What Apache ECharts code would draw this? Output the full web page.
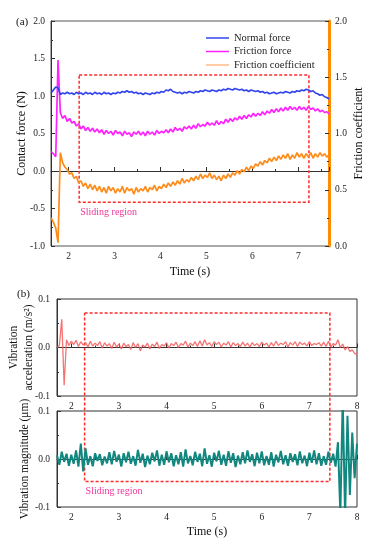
<!DOCTYPE html>
<html><head><meta charset="utf-8">
<script src="https://cdn.jsdelivr.net/npm/echarts@6/dist/echarts.min.js"></script>
<style>html,body{margin:0;padding:0;background:#fff}#c{width:372px;height:540px}</style>
</head><body><div id="c"></div>
<script>
// ---- panel (a): sampled every 0.05 s starting at 1.62 s ----
const timeStartA = 1.62, timeStepA = 0.05;
const normalForce = [
1.04,1.08,1.12,1.11,1.02,1.04,1.03,1.05,1.03,1.04,
1.02,1.05,1.03,1.04,1.02,1.05,1.03,1.04,1.02,1.05,
1.03,1.04,1.02,1.05,1.03,1.04,1.02,1.04,1.03,1.05,
1.04,1.06,1.05,1.07,1.05,1.06,1.04,1.05,1.03,1.04,
1.02,1.04,1.03,1.02,1.04,1.03,1.05,1.04,1.06,1.05,
1.08,1.07,1.09,1.06,1.05,1.04,1.05,1.03,1.05,1.04,
1.06,1.05,1.04,1.06,1.05,1.07,1.06,1.08,1.07,1.06,
1.08,1.07,1.06,1.08,1.07,1.09,1.08,1.10,1.09,1.08,
1.10,1.09,1.08,1.09,1.07,1.08,1.06,1.08,1.07,1.06,
1.07,1.05,1.06,1.04,1.05,1.03,1.04,1.05,1.03,1.04,
1.05,1.04,1.06,1.05,1.04,1.06,1.05,1.07,1.06,1.08,
1.07,1.09,1.08,1.06,1.07,1.04,1.03,1.01,1.02,0.99,
0.98,0.96];
const frictionForce = [
0.26,0.23,0.19,1.48,0.78,0.70,0.74,0.66,0.70,0.64,
0.66,0.60,0.63,0.56,0.60,0.54,0.58,0.53,0.57,0.52,
0.56,0.51,0.55,0.49,0.54,0.50,0.53,0.48,0.54,0.50,
0.52,0.47,0.53,0.49,0.51,0.46,0.52,0.49,0.53,0.48,
0.52,0.47,0.53,0.49,0.52,0.48,0.54,0.50,0.53,0.51,
0.55,0.51,0.56,0.52,0.58,0.54,0.57,0.53,0.59,0.56,
0.60,0.56,0.61,0.57,0.63,0.59,0.62,0.60,0.65,0.61,
0.64,0.61,0.67,0.62,0.66,0.63,0.69,0.65,0.70,0.66,
0.71,0.68,0.73,0.69,0.74,0.70,0.75,0.72,0.77,0.73,
0.77,0.74,0.79,0.75,0.80,0.77,0.82,0.78,0.83,0.79,
0.84,0.80,0.85,0.81,0.86,0.82,0.85,0.81,0.86,0.82,
0.85,0.81,0.86,0.82,0.84,0.80,0.83,0.79,0.81,0.78,
0.79,0.76];
const frictionCoef = [
0.25,0.21,0.16,0.03,0.83,0.74,0.70,0.68,0.64,0.65,
0.60,0.62,0.56,0.58,0.53,0.56,0.51,0.55,0.50,0.54,
0.49,0.53,0.48,0.52,0.47,0.53,0.49,0.52,0.47,0.51,
0.48,0.53,0.47,0.52,0.49,0.51,0.46,0.52,0.48,0.51,
0.49,0.53,0.48,0.52,0.50,0.54,0.49,0.53,0.51,0.55,
0.52,0.56,0.53,0.57,0.54,0.58,0.55,0.60,0.56,0.59,
0.57,0.61,0.58,0.62,0.59,0.64,0.60,0.63,0.61,0.65,
0.60,0.63,0.59,0.62,0.58,0.63,0.60,0.64,0.61,0.65,
0.63,0.67,0.64,0.68,0.66,0.70,0.67,0.71,0.69,0.73,
0.71,0.75,0.72,0.76,0.74,0.78,0.75,0.79,0.76,0.80,
0.77,0.81,0.78,0.82,0.77,0.81,0.78,0.83,0.79,0.82,
0.78,0.82,0.79,0.83,0.78,0.82,0.79,0.83,0.80,0.82,
0.79,0.81];
// ---- panel (b): sampled every 0.05 s starting at 1.70 s ----
const timeStartB = 1.70, timeStepB = 0.05;
const vibAccel = [
0.000,0.004,0.058,-0.078,0.016,0.004,0.013,0.006,0.015,0.002,
0.012,0.005,0.010,0.001,0.013,0.003,0.009,0.004,0.012,-0.001,
0.010,0.003,0.008,-0.002,0.011,0.001,0.007,-0.003,0.009,0.002,
0.006,-0.004,0.010,0.000,0.008,-0.007,0.005,0.001,0.009,-0.003,
0.007,0.002,0.011,-0.002,0.006,0.003,0.010,-0.001,0.008,0.004,
0.011,0.000,0.008,0.005,0.013,0.001,0.009,0.004,0.012,0.002,
0.014,0.003,0.016,0.005,0.010,0.002,0.012,0.006,0.011,0.001,
0.009,0.005,0.012,0.001,0.010,0.004,0.008,0.002,0.011,0.003,
0.009,0.001,0.010,0.004,0.008,0.002,0.011,0.005,0.009,0.001,
0.010,0.003,0.013,0.004,0.009,0.006,0.012,0.001,0.010,0.005,
0.012,0.002,0.011,0.006,0.009,0.003,0.012,0.004,0.008,0.006,
0.010,0.003,0.011,0.002,0.013,0.001,0.008,0.005,0.016,0.000,
0.007,-0.005,0.002,-0.008,-0.005,-0.012,-0.014];
const vibMag = [
0.008,-0.012,0.015,-0.006,0.011,-0.014,0.009,-0.010,0.018,-0.016,
0.032,-0.026,0.022,-0.012,0.006,-0.015,0.012,-0.004,0.010,-0.013,
0.005,-0.009,0.014,-0.011,0.017,-0.006,0.009,-0.016,0.012,-0.007,
0.015,-0.010,0.006,-0.014,0.019,-0.008,0.011,-0.017,0.007,-0.011,
0.013,-0.005,0.018,-0.014,0.009,-0.012,0.016,-0.007,0.012,-0.015,
0.008,-0.011,0.014,-0.016,0.020,-0.009,0.006,-0.013,0.015,-0.006,
0.011,-0.015,0.022,-0.010,0.008,-0.016,0.013,-0.005,0.017,-0.012,
0.009,-0.014,0.016,-0.008,0.012,-0.017,0.007,-0.011,0.014,-0.009,
0.018,-0.006,0.010,-0.015,0.013,-0.009,0.016,-0.013,0.006,-0.012,
0.014,-0.016,0.009,-0.007,0.017,-0.011,0.008,-0.014,0.012,-0.006,
0.010,-0.013,0.016,-0.009,0.007,-0.015,0.013,-0.008,0.018,-0.011,
0.012,-0.014,0.006,-0.012,0.015,-0.008,0.011,-0.016,0.035,-0.115,
0.125,-0.118,0.090,-0.075,0.055,-0.040,0.032];
// sliding-region boxes (data units)
const slideA = {t: [2.23, 7.23], force: [-0.415, 1.28]};
const slideB = {t: [2.28, 7.43], accelTop: 0.071, magBottom: -0.047};

const pairs = (arr, t0, dt) => arr.map((v, i) => [+(t0 + i * dt).toFixed(3), v]);

const FONT = 'Liberation Serif';
const AX = '#333';
const tick = {show: true, inside: true, length: 4, lineStyle: {color: AX}};
const minor = {show: true, splitNumber: 2, length: 2, lineStyle: {color: AX}};
const lbl = (extra) => Object.assign({color: '#222', fontFamily: FONT, fontSize: 9.5}, extra || {});
const nameStyle = {color: '#111', fontFamily: FONT, fontSize: 12};

const chart = echarts.init(document.getElementById('c'), null, {renderer: 'canvas'});
const option = {
  animation: false,
  title: [
    {text: '(a)', left: 11, top: 12, textStyle: {fontFamily: FONT, fontSize: 11, fontWeight: 'normal', color: '#111'}},
    {text: '(b)', left: 12, top: 284, textStyle: {fontFamily: FONT, fontSize: 11, fontWeight: 'normal', color: '#111'}}
  ],
  legend: {
    orient: 'vertical', left: 201, top: 27, itemWidth: 23, itemHeight: 1.5, itemGap: 1.5, icon: 'rect',
    textStyle: {fontFamily: FONT, fontSize: 10.5, color: '#222', lineHeight: 12},
    data: [
      {name: 'Normal force', itemStyle: {color: '#3344ee'}},
      {name: 'Friction force', itemStyle: {color: '#ff22ff'}},
      {name: 'Friction coefficient', itemStyle: {color: '#ffbb88'}}
    ]
  },
  grid: [
    {left: 51, right: 43, top: 21, height: 225, show: true, borderColor: '#555', borderWidth: 1, outerBoundsMode: 'none', containLabel: false},
    {left: 57, right: 15, top: 299, height: 97, show: true, borderColor: AX, borderWidth: 1, outerBoundsMode: 'none', containLabel: false},
    {left: 57, right: 15, top: 411, height: 96, show: true, borderColor: AX, borderWidth: 1, outerBoundsMode: 'none', containLabel: false}
  ],
  xAxis: [
    {gridIndex: 0, type: 'value', min: 1.617, max: 7.667, splitNumber: 6,
     axisLine: {lineStyle: {color: AX}}, axisTick: tick, minorTick: minor, splitLine: {show: false},
     axisLabel: lbl({margin: 5, showMinLabel: false, showMaxLabel: false}),
     name: 'Time (s)', nameLocation: 'middle', nameGap: 20, nameTextStyle: nameStyle, nameMoveOverlap: false},
    {gridIndex: 1, type: 'value', min: 1.70, max: 8, splitNumber: 6,
     axisLine: {lineStyle: {color: AX}}, axisTick: tick, minorTick: minor, splitLine: {show: false},
     axisLabel: lbl({margin: 5, showMinLabel: false})},
    {gridIndex: 2, type: 'value', min: 1.70, max: 8, splitNumber: 6,
     axisLine: {lineStyle: {color: AX}}, axisTick: tick, minorTick: minor, splitLine: {show: false},
     axisLabel: lbl({margin: 5, showMinLabel: false}),
     name: 'Time (s)', nameLocation: 'middle', nameGap: 19, nameTextStyle: nameStyle, nameMoveOverlap: false}
  ],
  yAxis: [
    {gridIndex: 0, type: 'value', min: -1, max: 2, interval: 0.5,
     axisLine: {show: true, lineStyle: {color: AX}}, axisTick: tick, minorTick: minor, splitLine: {show: false},
     axisLabel: lbl({margin: 6, formatter: v => v.toFixed(1)}),
     name: 'Contact force (N)', nameLocation: 'middle', nameGap: 23, nameTextStyle: nameStyle, nameMoveOverlap: false},
    {gridIndex: 0, type: 'value', position: 'right', min: 0, max: 2, interval: 0.5,
     axisLine: {show: true, lineStyle: {color: '#ff8c00', width: 3}}, axisTick: tick, minorTick: minor, splitLine: {show: false},
     axisLabel: lbl({margin: 6, formatter: v => v.toFixed(1)}),
     name: 'Friction coefficient', nameLocation: 'middle', nameGap: 24, nameTextStyle: nameStyle, nameMoveOverlap: false},
    {gridIndex: 1, type: 'value', min: -0.1, max: 0.1, interval: 0.1,
     axisLine: {show: true, lineStyle: {color: AX}}, axisTick: tick, minorTick: minor, splitLine: {show: false},
     axisLabel: lbl({margin: 7, formatter: v => v.toFixed(1)}),
     name: 'Vibration\nacceleration (m/s²)', nameLocation: 'middle', nameGap: 21, nameMoveOverlap: false,
     nameTextStyle: Object.assign({}, nameStyle, {fontSize: 11.5, lineHeight: 15})},
    {gridIndex: 2, type: 'value', min: -0.1, max: 0.1, interval: 0.1,
     axisLine: {show: true, lineStyle: {color: AX}}, axisTick: tick, minorTick: minor, splitLine: {show: false},
     axisLabel: lbl({margin: 7, formatter: v => v.toFixed(1)}),
     name: 'Vibration magnitude (μm)', nameLocation: 'middle', nameGap: 26, nameMoveOverlap: false,
     nameTextStyle: Object.assign({}, nameStyle, {fontSize: 11.5})}
  ],
  series: [
    {name: 'Friction coefficient', type: 'line', xAxisIndex: 0, yAxisIndex: 1, symbol: 'none',
     data: pairs(frictionCoef, timeStartA, timeStepA), color: '#ff8c1a', lineStyle: {width: 1.7, color: '#ff8c1a'}},
    {name: 'Friction force', type: 'line', xAxisIndex: 0, yAxisIndex: 0, symbol: 'none',
     data: pairs(frictionForce, timeStartA, timeStepA), color: '#ff22ff', lineStyle: {width: 1.7, color: '#ff22ff'}},
    {name: 'Normal force', type: 'line', xAxisIndex: 0, yAxisIndex: 0, symbol: 'none',
     data: pairs(normalForce, timeStartA, timeStepA), color: '#3344ee', lineStyle: {width: 1.7, color: '#3344ee'},
     markArea: {silent: true, itemStyle: {color: 'rgba(0,0,0,0)', borderColor: '#ff2a2a', borderWidth: 1.5, borderType: [3, 2]},
       data: [[{xAxis: slideA.t[0], yAxis: slideA.force[1]}, {xAxis: slideA.t[1], yAxis: slideA.force[0]}]]}},
    {name: 'Vibration acceleration', type: 'line', xAxisIndex: 1, yAxisIndex: 2, symbol: 'none',
     data: pairs(vibAccel, timeStartB, timeStepB), lineStyle: {width: 1.3, color: 'rgba(245,90,90,0.85)'}},
    {name: 'Vibration magnitude', type: 'line', xAxisIndex: 2, yAxisIndex: 3, symbol: 'none',
     data: pairs(vibMag, timeStartB, timeStepB), lineStyle: {width: 2, color: '#11877f'}}
  ]
};
chart.setOption(option);

// texts and the box that spans both (b) panels, placed through the axes' own scales
const pA = chart.convertToPixel({xAxisIndex: 0, yAxisIndex: 0}, [slideA.t[0], slideA.force[0]]);
const pB1 = chart.convertToPixel({xAxisIndex: 1, yAxisIndex: 2}, [slideB.t[0], slideB.accelTop]);
const pB2 = chart.convertToPixel({xAxisIndex: 2, yAxisIndex: 3}, [slideB.t[1], slideB.magBottom]);
chart.setOption({
  graphic: [
    {type: 'text', x: pA[0] + 1, y: pA[1] + 5,
     style: {text: 'Sliding region', fill: '#f0359a', font: '10px "Liberation Serif"'}},
    {type: 'polyline', silent: true,
     shape: {points: [[pB1[0], pB1[1]], [pB2[0], pB1[1]], [pB2[0], pB2[1]], [pB1[0], pB2[1]], [pB1[0], pB1[1]]]},
     style: {stroke: '#ff2a2a', lineWidth: 1.5, lineDash: [3, 2], fill: null}},
    {type: 'text', x: pB1[0] + 1, y: pB2[1] + 5,
     style: {text: 'Sliding region', fill: '#f0359a', font: '10px "Liberation Serif"'}}
  ]
});
</script>
</body></html>
